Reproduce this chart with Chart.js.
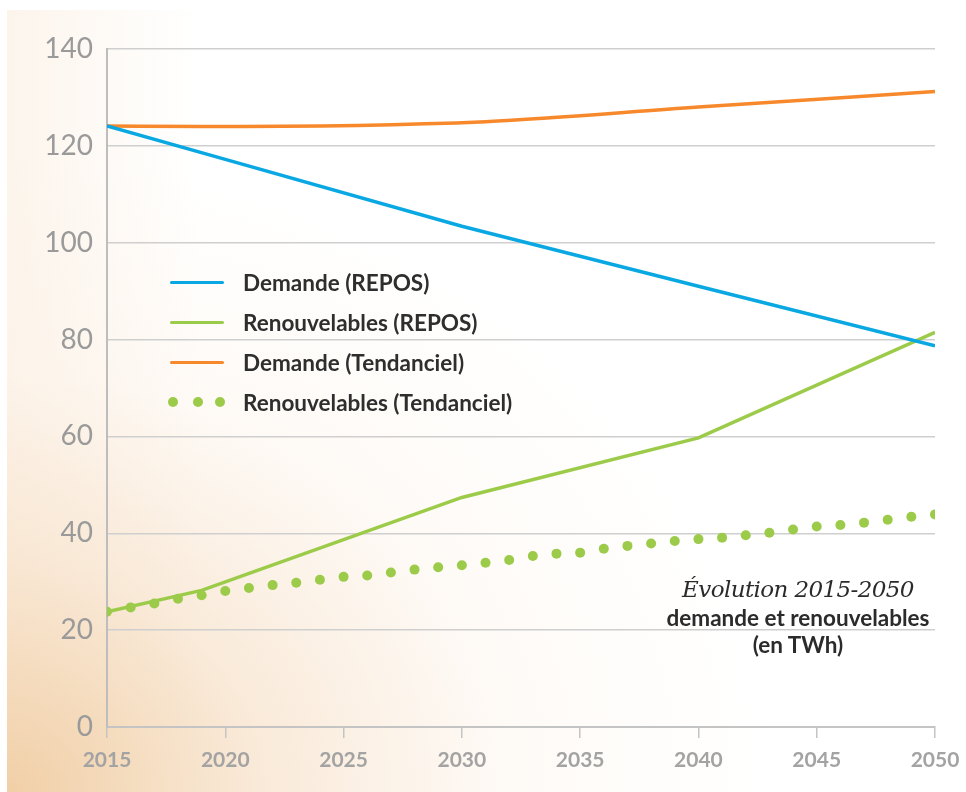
<!DOCTYPE html>
<html lang="fr">
<head>
<meta charset="utf-8">
<title>Évolution 2015-2050</title>
<script src="https://cdn.jsdelivr.net/npm/chart.js@4.4.1/dist/chart.umd.min.js"></script>
<style>
  html, body { margin: 0; padding: 0; background: #fff; }
  #wrap { position: relative; width: 966px; height: 792px; overflow: hidden; }
  #bg {
    position: absolute; left: 7px; top: 10px; right: 0; bottom: 0;
    background:
      radial-gradient(ellipse 760px 640px at 0% 100%, rgba(238,198,150,0.8) 0%, rgba(245,218,188,0.55) 35%, rgba(252,240,228,0.35) 65%, rgba(255,255,255,0) 100%),
      linear-gradient(90deg, rgba(250,236,220,0.55) 0%, rgba(255,255,255,0) 20%);
  }
  canvas { position: absolute; left: 0; top: 0; }
  #legend { position: absolute; left: 166px; top: 262px; font-family: Lato, "Noto Sans", sans-serif; font-weight: 700; font-size: 22.5px; color: #2e2e2e; }
  #legend .row { height: 40.1px; display: flex; align-items: center; }
  #legend .swatch { width: 62px; height: 20px; position: relative; margin-right: 15px; }
  #legend .line { position: absolute; left: 4px; right: 4px; top: 8.5px; height: 3.5px; border-radius: 2px; }
  #legend .dot { position: absolute; top: 5px; width: 10px; height: 10px; border-radius: 50%; }
  #note { position: absolute; left: 598px; width: 400px; top: 574px; text-align: center; font-family: Lato, "Noto Sans", sans-serif; color: #2b2b2b; }
  #note .title { font-family: "DejaVu Serif", serif; font-style: italic; font-size: 23px; line-height: 30px; letter-spacing: -0.6px; }
  #note .sub { font-weight: 700; font-size: 22.5px; line-height: 27px; }
</style>
</head>
<body>
<div id="wrap">
  <div id="bg"></div>
  <canvas id="energyChart" width="966" height="792"></canvas>
  <div id="legend"></div>
  <div id="note">
    <div class="title">Évolution 2015-2050</div>
    <div class="sub">demande et renouvelables</div>
    <div class="sub">(en TWh)</div>
  </div>
</div>
<script>
// values (TWh)
const reposYears = [2015, 2020, 2030, 2040, 2050];
const demandeRepos = [124.1, 117.2, 103.4, 91.0, 78.7];

const renouvReposYears = [2015, 2019, 2030, 2040, 2050];
const renouvRepos = [23.8, 28.2, 47.4, 59.7, 81.5];

const tendYears = [2015, 2019, 2031, 2040, 2050];
const demandeTend = [124.1, 124.0, 125.0, 128.0, 131.2];

const allYears = [];
for (let y = 2015; y <= 2050; y++) allYears.push(y);
const renouvTend = [
  23.8, 24.7, 25.5, 26.5, 27.2, 28.1, 28.7, 29.3, 29.8, 30.4,
  31.0, 31.3, 31.9, 32.5, 33.0, 33.4, 33.9, 34.5, 35.3, 35.8,
  36.0, 36.8, 37.4, 37.9, 38.4, 38.8, 39.1, 39.6, 40.1, 40.8,
  41.4, 41.7, 42.2, 42.8, 43.4, 43.9
];

const yTicks = [0, 20, 40, 60, 80, 100, 120, 140];
const xTicks = [2015, 2020, 2025, 2030, 2035, 2040, 2045, 2050];

const BLUE = "#0aa8e2";
const GREEN = "#9ccb4a";
const ORANGE = "#f7892c";

const toPoints = (xs, ys) => xs.map((x, i) => ({ x: x, y: ys[i] }));

const datasets = [
  {
    label: "Demande (REPOS)",
    data: toPoints(reposYears, demandeRepos),
    borderColor: BLUE,
    borderWidth: 3.5,
    pointRadius: 0,
    kind: "line",
  },
  {
    label: "Renouvelables (REPOS)",
    data: toPoints(renouvReposYears, renouvRepos),
    borderColor: GREEN,
    borderWidth: 3.5,
    pointRadius: 0,
    kind: "line",
  },
  {
    label: "Demande (Tendanciel)",
    data: toPoints(tendYears, demandeTend),
    borderColor: ORANGE,
    borderWidth: 3.5,
    pointRadius: 0,
    cubicInterpolationMode: "monotone",
    kind: "line",
  },
  {
    label: "Renouvelables (Tendanciel)",
    data: toPoints(allYears, renouvTend),
    showLine: false,
    borderColor: GREEN,
    backgroundColor: GREEN,
    pointRadius: 5,
    pointBorderWidth: 0,
    kind: "dots",
  },
];

// html legend
const legend = document.getElementById("legend");
datasets.forEach((ds) => {
  const row = document.createElement("div");
  row.className = "row";
  const sw = document.createElement("div");
  sw.className = "swatch";
  if (ds.kind === "dots") {
    [2, 27, 49].forEach((left) => {
      const d = document.createElement("span");
      d.className = "dot";
      d.style.left = left + "px";
      d.style.background = ds.backgroundColor;
      sw.appendChild(d);
    });
  } else {
    const l = document.createElement("span");
    l.className = "line";
    l.style.background = ds.borderColor;
    sw.appendChild(l);
  }
  const txt = document.createElement("span");
  txt.textContent = ds.label;
  row.appendChild(sw);
  row.appendChild(txt);
  legend.appendChild(row);
});

new Chart(document.getElementById("energyChart"), {
  type: "line",
  data: { datasets: datasets },
  options: {
    responsive: false,
    animation: false,
    layout: { padding: { left: 0, right: 31, top: 49, bottom: 0 } },
    plugins: { legend: { display: false }, tooltip: { enabled: false } },
    scales: {
      x: {
        type: "linear",
        min: 2015,
        max: 2050,
        afterBuildTicks: (axis) => { axis.ticks = xTicks.map((v) => ({ value: v })); },
        afterFit: (axis) => {
          axis.height = 65;
          axis.paddingLeft = 0;
          axis.paddingRight = 0;
        },
        ticks: {
          color: "#a3a3a3",
          font: { family: "Lato", size: 21, weight: "bold" },
          padding: 10,
          callback: (v) => String(v),
          maxRotation: 0,
        },
        grid: { drawOnChartArea: false, drawTicks: true, tickLength: 11, color: "#c4c4c4", lineWidth: 1.5 },
        border: { color: "#c4c4c4", width: 2 },
      },
      y: {
        min: 0,
        max: 140,
        afterBuildTicks: (axis) => { axis.ticks = yTicks.map((v) => ({ value: v })); },
        afterFit: (axis) => { axis.width = 107; },
        ticks: {
          color: "#9a9a9a",
          font: { family: "Lato", size: 28 },
          padding: 14,
        },
        grid: { color: "#cfcfcf", lineWidth: 1.5, drawTicks: false },
        border: { color: "#bdbdbd", width: 2 },
      },
    },
  },
});
</script>
</body>
</html>
